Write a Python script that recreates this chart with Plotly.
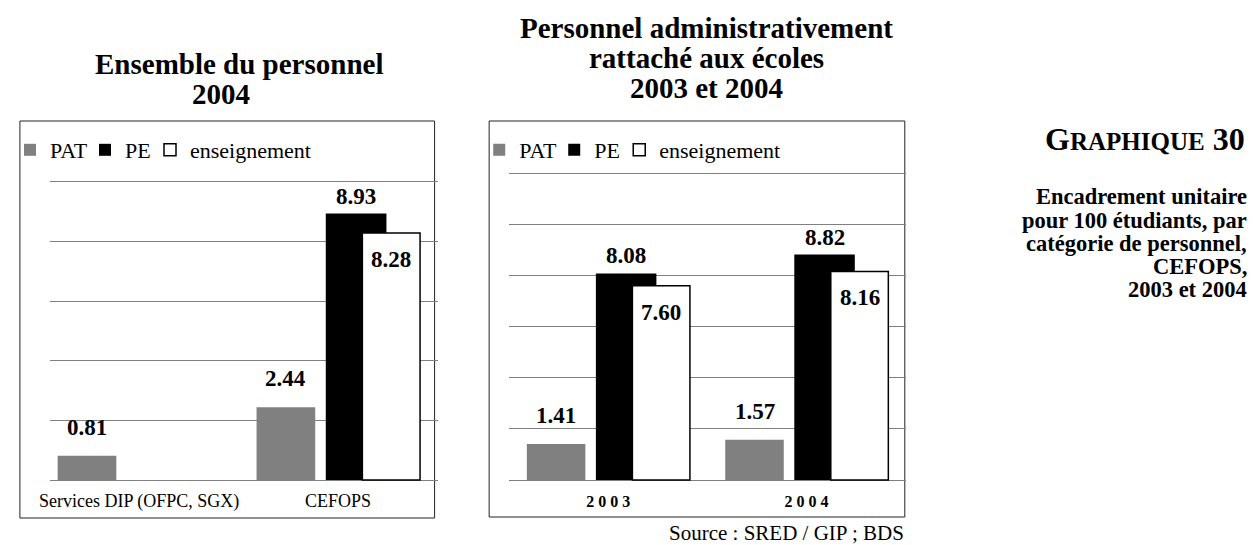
import plotly.graph_objects as go

W, H = 1253, 545

# ---------------- data ----------------
left_categories = ["Services DIP (OFPC, SGX)", "CEFOPS"]
left_pat = [0.81, 2.44]
left_pe = [None, 8.93]
left_ens = [None, 8.28]

right_categories = ["2003", "2004"]
right_tick_labels = ["2 0 0 3", "2 0 0 4"]
right_pat = [1.41, 1.57]
right_pe = [8.08, 8.82]
right_ens = [7.60, 8.16]

series_names = ["PAT", "PE", "enseignement"]
left_title_lines = ["Ensemble du personnel", "2004"]
right_title_lines = ["Personnel administrativement", "rattaché aux écoles", "2003 et 2004"]
side_title = "G<span style='font-size:25px'>RAPHIQUE</span> 30"
side_lines = ["Encadrement unitaire", "pour 100 étudiants, par",
              "catégorie de personnel,", "CEFOPS,", "2003 et 2004"]
source_text = "Source : SRED / GIP ; BDS"

# ---------------- style ----------------
FONT = "Liberation Serif, Times New Roman, serif"
GRAY = "#808080"
# bar geometry in category units: (offset, width)
geom = {"PAT": (-0.41, 0.295), "PE": (-0.062, 0.305), "enseignement": (0.122, 0.29)}
fills = {"PAT": GRAY, "PE": "#000000", "enseignement": "#ffffff"}
lines = {"PAT": (GRAY, 0), "PE": ("#000000", 0), "enseignement": ("#000000", 1.5)}
legend_widths = {"PAT": 30, "PE": 20, "enseignement": 0}
label_shift = {"PAT": 14, "PE": 3, "enseignement": -12}


def px(x):
    return x / W


def py(y):
    return 1 - y / H


fig = go.Figure()

panels = [
    ("x", "y", "legend", left_categories, [left_pat, left_pe, left_ens]),
    ("x2", "y2", "legend2", right_categories, [right_pat, right_pe, right_ens]),
]

annotations = []
for xa, ya, leg, cats, vals in panels:
    for name, v in zip(series_names, vals):
        off, wid = geom[name]
        lc, lw = lines[name]
        fig.add_trace(go.Bar(
            x=cats, y=v, name=name, xaxis=xa, yaxis=ya, legend=leg,
            legendwidth=legend_widths[name],
            offset=off, width=wid,
            marker=dict(color=fills[name], line=dict(color=lc, width=lw)),
            hoverinfo="skip",
        ))
        for i, val in enumerate(v):
            if val is None:
                continue
            cx = i + off + wid / 2
            annotations.append(dict(
                x=cx, y=val, xref=xa, yref=ya, text=f"<b>{val:.2f}</b>",
                showarrow=False,
                yanchor="top" if name == "enseignement" else "bottom",
                yshift=label_shift[name],
                font=dict(family=FONT, size=23, color="#000")))

# titles
left_title_x = [231, 213]
for i, t in enumerate(left_title_lines):
    annotations.append(dict(x=px(left_title_x[i]), y=py(64 + 30 * i), xref="paper", yref="paper",
                            text=f"<b>{t}</b>", showarrow=False, xanchor="center", yanchor="middle",
                            font=dict(family=FONT, size=29, color="#000")))
for i, t in enumerate(right_title_lines):
    annotations.append(dict(x=px(702), y=py(28 + 30 * i), xref="paper", yref="paper",
                            text=f"<b>{t}</b>", showarrow=False, xanchor="center", yanchor="middle",
                            font=dict(family=FONT, size=29, color="#000")))
annotations.append(dict(x=px(1247), y=py(139), xref="paper", yref="paper",
                        text=f"<b>{side_title}</b>", showarrow=False, xanchor="right", yanchor="middle",
                        font=dict(family=FONT, size=32, color="#000")))
for i, t in enumerate(side_lines):
    annotations.append(dict(x=px(1249), y=py(197 + 23 * i), xref="paper", yref="paper",
                            text=f"<b>{t}</b>", showarrow=False, xanchor="right", yanchor="middle",
                            font=dict(family=FONT, size=22.5, color="#000")))
annotations.append(dict(x=px(903), y=py(533), xref="paper", yref="paper",
                        text=source_text, showarrow=False, xanchor="right", yanchor="middle",
                        font=dict(family=FONT, size=21, color="#000")))

shapes = [
    dict(type="rect", xref="paper", yref="paper", x0=px(10), x1=px(428), y0=py(518), y1=py(121),
         line=dict(color="#222", width=1), fillcolor="rgba(0,0,0,0)", layer="below"),
    dict(type="rect", xref="paper", yref="paper", x0=px(483), x1=px(902), y0=py(517), y1=py(121),
         line=dict(color="#222", width=1), fillcolor="rgba(0,0,0,0)", layer="below"),
]

axis_common = dict(showline=False, zeroline=False, ticks="", fixedrange=True, showgrid=False)
grid_common = dict(showgrid=True, gridcolor=GRAY, gridwidth=1, showticklabels=False,
                   zeroline=False, showline=False, ticks="", fixedrange=True)

legend_common = dict(orientation="h", font=dict(family=FONT, size=22, color="#000"),
                     bgcolor="rgba(0,0,0,0)", borderwidth=0, yanchor="middle",
                     xanchor="left", traceorder="normal", itemclick=False, itemdoubleclick=False)

# y scales: left 29.83 px/unit, right 25.56 px/unit, baseline at y=480
fig.update_layout(
    width=W, height=H, margin=dict(l=0, r=0, t=0, b=0),
    paper_bgcolor="#ffffff", plot_bgcolor="rgba(0,0,0,0)",
    barmode="overlay", showlegend=True,
    font=dict(family=FONT, color="#000"),
    xaxis=dict(domain=[px(40), px(431)], range=[-0.45, 1.5], anchor="y",
               tickfont=dict(family=FONT, size=18, color="#000"), ticklabelstandoff=7,
               **axis_common),
    yaxis=dict(domain=[py(480 + 0.05 * 29.83), py(480 - 10.3 * 29.83)], range=[-0.05, 10.3],
               tick0=0, dtick=2, anchor="x", **grid_common),
    xaxis2=dict(domain=[px(503), px(903)], range=[-0.5, 1.5], anchor="y2",
                tickmode="array", tickvals=right_categories,
                ticktext=[f"<b>{t}</b>" for t in right_tick_labels],
                tickfont=dict(family=FONT, size=16, color="#000"), ticklabelstandoff=9,
                **axis_common),
    yaxis2=dict(domain=[py(480 + 0.05 * 25.56), py(480 - 12.3 * 25.56)], range=[-0.05, 12.3],
                tick0=0, dtick=2, anchor="x2", **grid_common),
    legend=dict(x=px(0), y=py(150), **legend_common),
    legend2=dict(x=px(473), y=py(150), **legend_common),
    annotations=annotations,
    shapes=shapes,
)

fig.write_html("out.html", config={"displayModeBar": False},
               post_script="document.body.style.margin='0px';")
